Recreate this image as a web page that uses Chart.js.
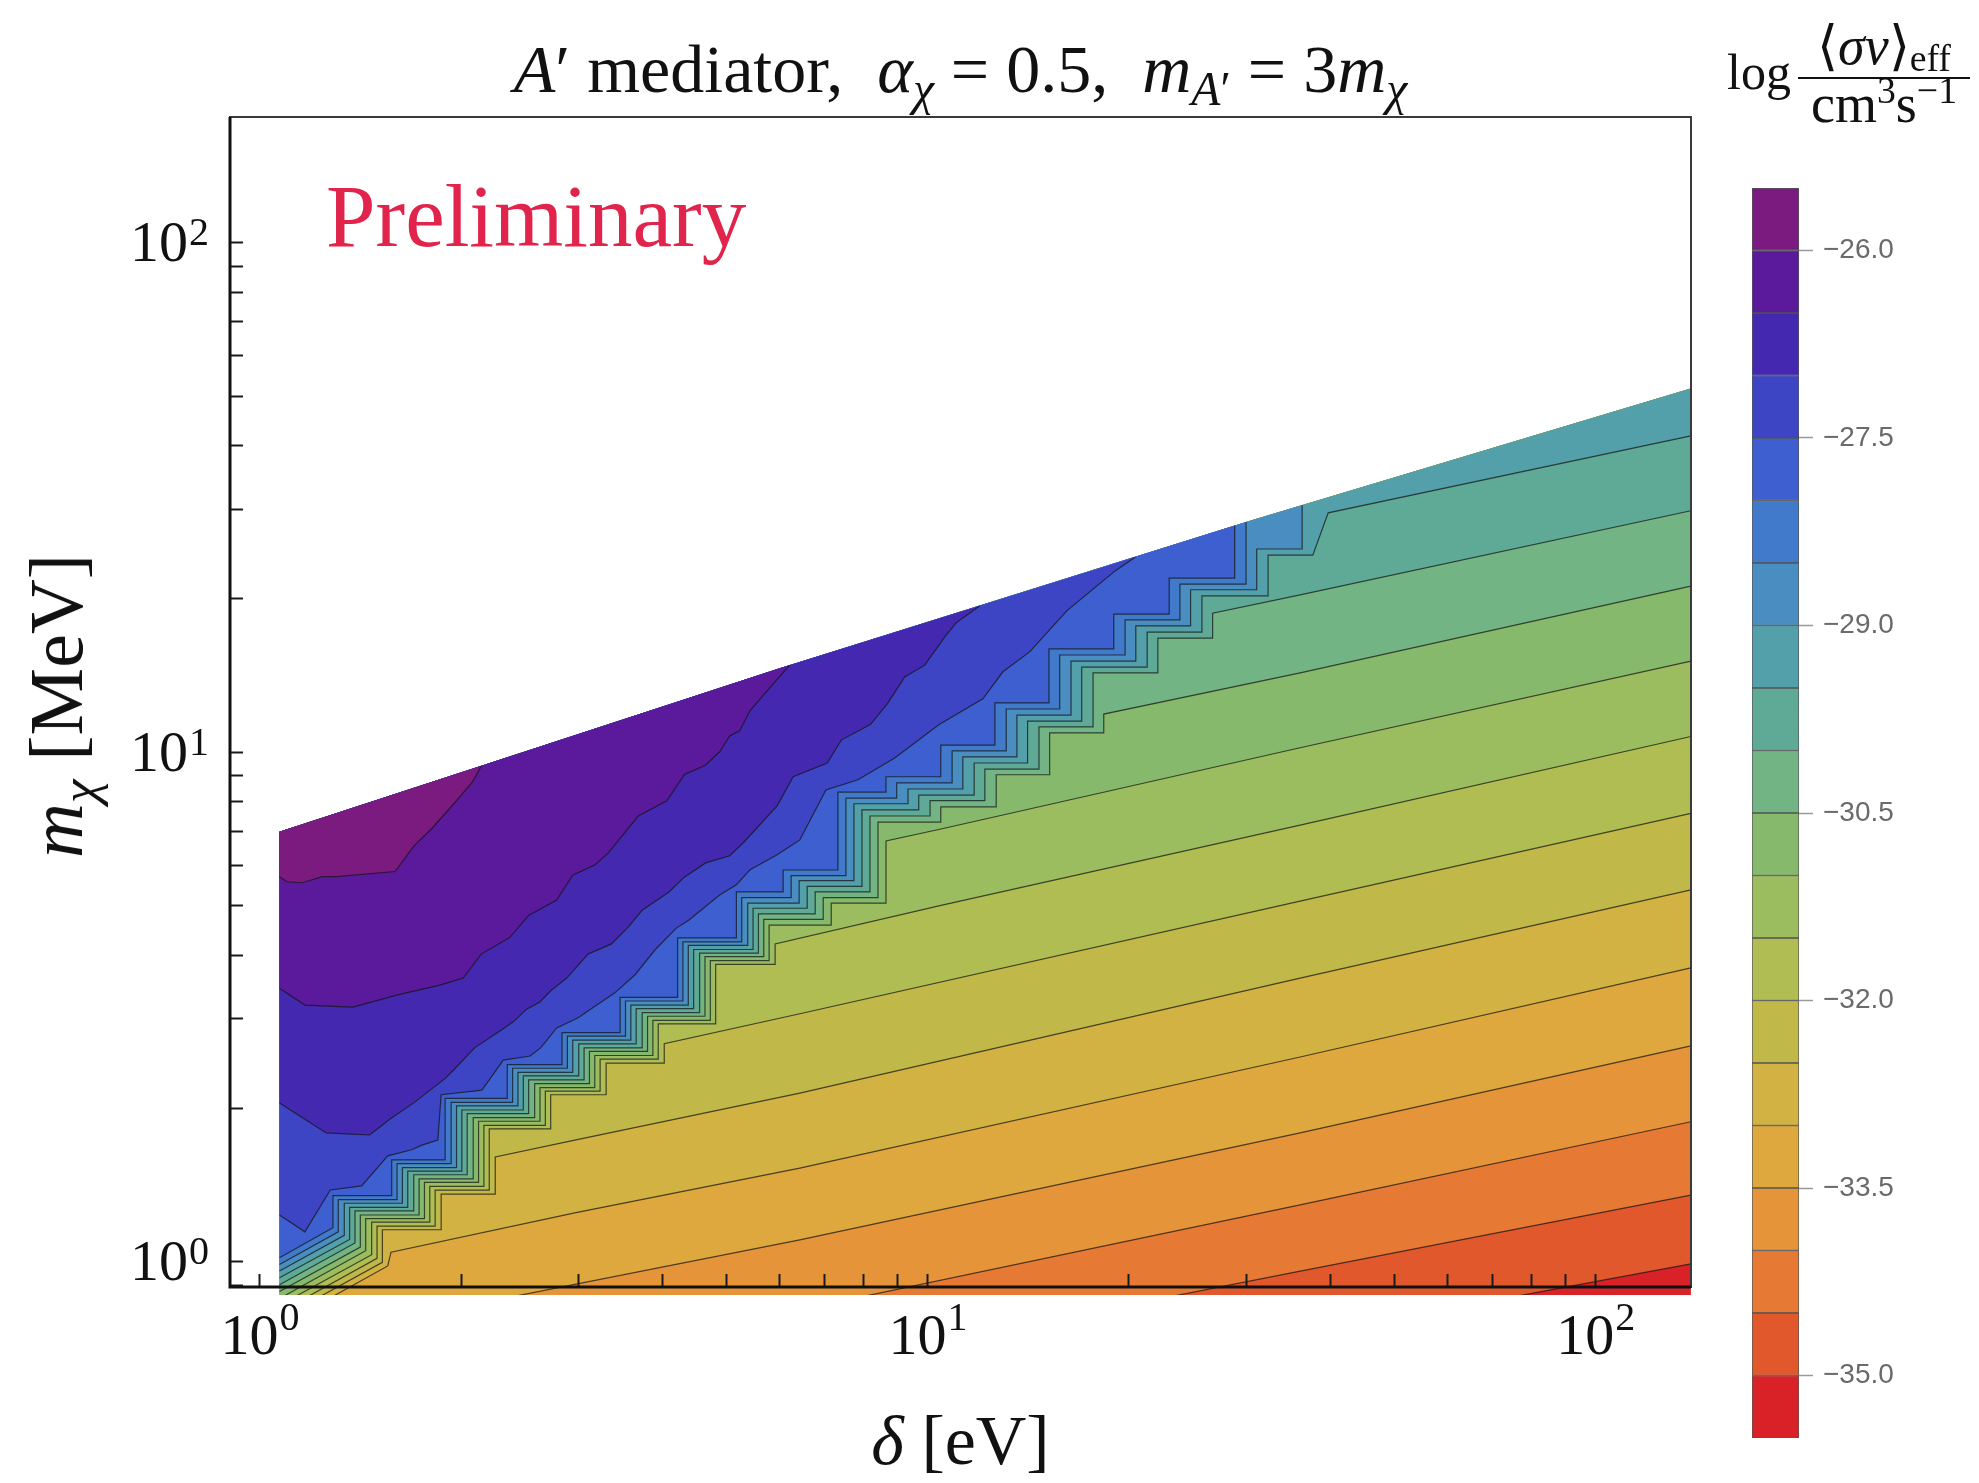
<!DOCTYPE html>
<html>
<head>
<meta charset="utf-8">
<script src="https://cdn.jsdelivr.net/npm/chart.js@4.4.1/dist/chart.umd.min.js"></script>
<style>
  body { margin: 0; background: #fff; }
  #wrap { position: relative; width: 1979px; height: 1483px; font-family: "Liberation Serif", serif; color: #111; }
  canvas { position: absolute; }
  .lbl { position: absolute; white-space: nowrap; line-height: 1; }
  .lbl sub { font-size: 0.7em; vertical-align: -0.28em; line-height: 0; }
  .lbl sup { font-size: 0.7em; vertical-align: 0.5em; line-height: 0; }
</style>
</head>
<body>
<div id="wrap">
  <canvas id="main" width="1979" height="1483" style="left:0;top:0"></canvas>
  <canvas id="bar" width="259" height="1320" style="left:1720px;top:150px"></canvas>

  <div class="lbl" style="left:0;width:1921px;text-align:center;top:35px;font-size:68px">
    <i>A</i>′ mediator,&nbsp; <i>α</i><sub><i>χ</i></sub> = 0.5,&nbsp; <i>m</i><sub><i>A</i>′</sub> = 3<i>m</i><sub><i>χ</i></sub>
  </div>
  <div class="lbl" style="left:1727px;top:47px;font-size:50px">log</div>
  <div class="lbl" style="left:1798px;top:24px;width:172px;font-size:54px;text-align:center">
    <div style="line-height:44px;padding-bottom:9px">⟨<i>σv</i>⟩<sub style="vertical-align:-0.18em">eff</sub></div>
    <div style="border-top:2.5px solid #111;line-height:50px">cm<sup>3</sup>s<sup>−1</sup></div>
  </div>
  <div class="lbl" style="left:326px;top:172px;font-size:89px;color:#e1244b">Preliminary</div>
  <div class="lbl" style="left:0;width:1921px;text-align:center;top:1406px;font-size:70px"><i>δ</i> [eV]</div>
  <div class="lbl" style="left:56px;top:706px;font-size:76px;transform:translate(-50%,-50%) rotate(-90deg)"><i>m</i><sub><i>χ</i></sub> [MeV]</div>
</div>

<script>
// --- Data (points read as [log10(δ / eV), log10(m_χ / MeV)]) ---
const levelValues = [-35.5, -35, -34.5, -34, -33.5, -33, -32.5, -32, -31.5, -31, -30.5,
  -30, -29.5, -29, -28.5, -28, -27.5, -27, -26.5, -26, -25.5];
const bandColors = ["#d92227", "#e2582d", "#e67a34", "#e5943a", "#dea83e", "#d1b242", "#c1b84a",
  "#afbd53", "#9bbd5f", "#86b96c", "#72b483", "#5faa96", "#539faa", "#4a8dc1", "#4179cb",
  "#3d5fcf", "#3d45c4", "#4528b0", "#5a1a9b", "#7b1b80"];
const colorbarTicks = [-35, -33.5, -32, -30.5, -29, -27.5, -26];

const xTickValues = [1, 2, 3, 4, 5, 6, 7, 8, 9, 10, 20, 30, 40, 50, 60, 70, 80, 90, 100];
const yTickValues = [0.9, 1, 2, 3, 4, 5, 6, 7, 8, 9, 10, 20, 30, 40, 50, 60, 70, 80, 90, 100];
const majorTickValues = [1, 10, 100];
const majorTickExponents = ["0", "1", "2"];
const axisFloor = 0.8908; // m_χ where the frame's bottom line sits (fill runs a little below it)

// region where the rate is defined: right edge, top edge, left edge, bottom
const domainRing = [[2.143, -0.076], [2.143, 1.713], [1.487, 1.455], [0.779, 1.164], [0.030, 0.843], [0.030, -0.076]];

const iso350 = [[1.850, -0.076], [1.917, -0.060], [2.143, -0.005]];
const iso345 = [[1.338, -0.076], [1.543, -0.023], [2.143, 0.130]];
const iso340 = [[0.878, -0.076], [1.558, 0.111], [2.143, 0.274]];
const iso335 = [[0.353, -0.076], [0.809, 0.042], [1.558, 0.252], [2.143, 0.423]];
const iso330 = [[0.100, -0.076], [0.192, -0.009], [0.197, 0.018], [0.472, 0.095], [0.809, 0.183], [1.558, 0.401], [2.143, 0.576]];
const iso325 = [[0.081, -0.076], [0.184, -0.002], [0.184, 0.062], [0.272, 0.062], [0.272, 0.132], [0.353, 0.132], [0.353, 0.205],
  [0.472, 0.238], [0.809, 0.330], [1.558, 0.556], [2.143, 0.729]];
const iso320 = [[0.063, -0.076], [0.176, 0.006], [0.176, 0.069], [0.263, 0.069], [0.263, 0.140], [0.344, 0.140], [0.344, 0.260],
  [0.436, 0.260], [0.436, 0.327], [0.519, 0.327], [0.519, 0.389], [0.606, 0.389], [0.606, 0.427], [0.809, 0.486],
  [1.558, 0.707], [2.143, 0.879]];
const iso315 = [[0.044, -0.076], [0.168, 0.013], [0.168, 0.077], [0.255, 0.077], [0.255, 0.147], [0.336, 0.147], [0.336, 0.267],
  [0.428, 0.267], [0.428, 0.334], [0.510, 0.334], [0.510, 0.397], [0.597, 0.397], [0.597, 0.466], [0.683, 0.466],
  [0.683, 0.583], [0.772, 0.583], [0.772, 0.623], [1.022, 0.699], [1.558, 0.856], [2.143, 1.030]];
const iso310 = [[0.030, -0.073], [0.159, 0.021], [0.159, 0.084], [0.247, 0.084], [0.247, 0.155], [0.328, 0.155], [0.328, 0.275],
  [0.420, 0.275], [0.420, 0.341], [0.502, 0.341], [0.502, 0.404], [0.589, 0.404], [0.589, 0.473], [0.675, 0.473],
  [0.675, 0.590], [0.763, 0.590], [0.763, 0.660], [0.856, 0.660], [0.856, 0.703], [0.938, 0.703], [0.938, 0.825],
  [1.022, 0.849], [1.558, 1.008], [2.143, 1.178]];
const iso305 = [[0.030, -0.059], [0.151, 0.028], [0.151, 0.091], [0.239, 0.091], [0.239, 0.162], [0.320, 0.162], [0.320, 0.282],
  [0.412, 0.282], [0.412, 0.349], [0.494, 0.349], [0.494, 0.412], [0.581, 0.412], [0.581, 0.481], [0.667, 0.481],
  [0.667, 0.598], [0.755, 0.598], [0.755, 0.671], [0.844, 0.671], [0.844, 0.714], [0.926, 0.714], [0.926, 0.862],
  [1.020, 0.862], [1.020, 0.892], [1.103, 0.892], [1.103, 0.955], [1.183, 0.955], [1.183, 1.037], [1.264, 1.037],
  [1.264, 1.074], [1.558, 1.155], [2.143, 1.325]];
const iso300 = [[0.030, -0.046], [0.143, 0.036], [0.143, 0.099], [0.231, 0.099], [0.231, 0.170], [0.311, 0.170], [0.311, 0.290],
  [0.403, 0.290], [0.403, 0.356], [0.486, 0.356], [0.486, 0.419], [0.573, 0.419], [0.573, 0.488], [0.659, 0.488],
  [0.659, 0.605], [0.747, 0.605], [0.747, 0.682], [0.832, 0.682], [0.832, 0.725], [0.914, 0.725], [0.914, 0.874],
  [1.004, 0.874], [1.004, 0.904], [1.086, 0.904], [1.086, 0.966], [1.167, 0.966], [1.167, 1.049], [1.248, 1.049],
  [1.248, 1.155], [1.345, 1.155], [1.345, 1.223], [1.427, 1.223], [1.427, 1.272], [1.558, 1.308], [2.143, 1.473]];
const iso295 = [[0.030, -0.032], [0.135, 0.043], [0.135, 0.106], [0.222, 0.106], [0.222, 0.177], [0.303, 0.177], [0.303, 0.297],
  [0.395, 0.297], [0.395, 0.364], [0.478, 0.364], [0.478, 0.427], [0.564, 0.427], [0.564, 0.496], [0.650, 0.496],
  [0.650, 0.612], [0.739, 0.612], [0.739, 0.693], [0.820, 0.693], [0.820, 0.736], [0.902, 0.736], [0.902, 0.886],
  [0.987, 0.886], [0.987, 0.915], [1.070, 0.915], [1.070, 0.978], [1.150, 0.978], [1.150, 1.060], [1.231, 1.060],
  [1.231, 1.166], [1.329, 1.166], [1.329, 1.235], [1.411, 1.235], [1.411, 1.306], [1.510, 1.306], [1.510, 1.386],
  [1.577, 1.386], [1.600, 1.469], [2.143, 1.620]];
const iso290 = [[0.030, -0.019], [0.127, 0.051], [0.127, 0.114], [0.214, 0.114], [0.214, 0.184], [0.295, 0.184], [0.295, 0.305],
  [0.387, 0.305], [0.387, 0.371], [0.469, 0.371], [0.469, 0.434], [0.556, 0.434], [0.556, 0.503], [0.642, 0.503],
  [0.642, 0.620], [0.731, 0.620], [0.731, 0.703], [0.808, 0.703], [0.808, 0.747], [0.890, 0.747], [0.890, 0.898],
  [0.971, 0.898], [0.971, 0.927], [1.053, 0.927], [1.053, 0.990], [1.134, 0.990], [1.134, 1.072], [1.215, 1.072],
  [1.215, 1.178], [1.312, 1.178], [1.312, 1.247], [1.394, 1.247], [1.394, 1.318], [1.493, 1.318], [1.493, 1.398],
  [1.561, 1.398], [1.561, 1.484]];
const iso285 = [[0.030, -0.006], [0.118, 0.058], [0.118, 0.121], [0.206, 0.121], [0.206, 0.192], [0.287, 0.192], [0.287, 0.312],
  [0.379, 0.312], [0.379, 0.379], [0.461, 0.379], [0.461, 0.442], [0.548, 0.442], [0.548, 0.511], [0.634, 0.511],
  [0.634, 0.627], [0.722, 0.627], [0.722, 0.714], [0.796, 0.714], [0.796, 0.757], [0.878, 0.757], [0.878, 0.909],
  [0.954, 0.909], [0.954, 0.939], [1.037, 0.939], [1.037, 1.002], [1.118, 1.002], [1.118, 1.084], [1.198, 1.084],
  [1.198, 1.190], [1.296, 1.190], [1.296, 1.259], [1.378, 1.259], [1.378, 1.329], [1.477, 1.329], [1.477, 1.451]];
const iso280 = [[0.030, 0.007], [0.110, 0.066], [0.110, 0.129], [0.198, 0.129], [0.198, 0.199], [0.278, 0.199], [0.278, 0.320],
  [0.371, 0.320], [0.371, 0.386], [0.453, 0.386], [0.453, 0.449], [0.540, 0.449], [0.540, 0.518], [0.626, 0.518],
  [0.626, 0.635], [0.714, 0.635], [0.714, 0.725], [0.784, 0.725], [0.784, 0.768], [0.866, 0.768], [0.866, 0.921],
  [0.938, 0.921], [0.938, 0.951], [1.020, 0.951], [1.020, 1.013], [1.101, 1.013], [1.101, 1.096], [1.182, 1.096],
  [1.182, 1.202], [1.279, 1.202], [1.279, 1.270], [1.362, 1.270], [1.362, 1.341], [1.460, 1.341], [1.460, 1.444]];
const iso275 = [[0.030, 0.091], [0.068, 0.058], [0.106, 0.140], [0.153, 0.148], [0.192, 0.207], [0.228, 0.219], [0.243, 0.228],
  [0.267, 0.238], [0.272, 0.327], [0.333, 0.336], [0.365, 0.395], [0.405, 0.403], [0.421, 0.419], [0.445, 0.458],
  [0.477, 0.478], [0.532, 0.527], [0.562, 0.562], [0.592, 0.611], [0.624, 0.654], [0.643, 0.670], [0.689, 0.719],
  [0.714, 0.739], [0.734, 0.768], [0.775, 0.798], [0.809, 0.827], [0.848, 0.925], [0.896, 0.945], [0.951, 0.988],
  [1.017, 1.053], [1.083, 1.104], [1.113, 1.157], [1.153, 1.196], [1.209, 1.277], [1.281, 1.355], [1.311, 1.382]];
const iso270 = [[0.030, 0.311], [0.100, 0.252], [0.165, 0.248], [0.195, 0.279], [0.233, 0.313], [0.279, 0.360], [0.291, 0.376],
  [0.322, 0.419], [0.360, 0.452], [0.380, 0.470], [0.400, 0.495], [0.420, 0.509], [0.436, 0.531], [0.460, 0.556],
  [0.492, 0.603], [0.527, 0.623], [0.552, 0.656], [0.573, 0.689], [0.613, 0.725], [0.636, 0.754], [0.668, 0.782],
  [0.704, 0.796], [0.724, 0.821], [0.745, 0.851], [0.775, 0.894], [0.799, 0.951], [0.850, 0.978], [0.871, 1.023],
  [0.915, 1.054], [0.941, 1.096], [0.966, 1.147], [0.996, 1.170], [1.028, 1.229], [1.043, 1.253], [1.078, 1.286]];
const iso265 = [[0.030, 0.536], [0.068, 0.503], [0.140, 0.499], [0.207, 0.523], [0.270, 0.542], [0.305, 0.556], [0.332, 0.603],
  [0.375, 0.636], [0.403, 0.679], [0.445, 0.709], [0.469, 0.758], [0.502, 0.778], [0.522, 0.801], [0.543, 0.835],
  [0.567, 0.874], [0.610, 0.904], [0.636, 0.955], [0.668, 0.974], [0.689, 1.000], [0.704, 1.031], [0.719, 1.041],
  [0.734, 1.080], [0.761, 1.121], [0.794, 1.170]];
const iso260 = [[0.030, 0.755], [0.041, 0.745], [0.064, 0.743], [0.094, 0.755], [0.115, 0.755], [0.203, 0.765], [0.231, 0.815],
  [0.259, 0.851], [0.291, 0.898], [0.319, 0.941], [0.332, 0.972]];

// one contour per level boundary, -35.0 ... -26.0
const isoLines = [iso350, iso345, iso340, iso335, iso330, iso325, iso320, iso315, iso310, iso305,
  iso300, iso295, iso290, iso285, iso280, iso275, iso270, iso265, iso260];

// --- Helpers ---
const toPoint = ([lx, ly]) => ({ x: 10 ** lx, y: 10 ** ly });

function segDist(p, a, b) {
  const dx = b[0] - a[0], dy = b[1] - a[1];
  let t = ((p[0] - a[0]) * dx + (p[1] - a[1]) * dy) / (dx * dx + dy * dy);
  t = Math.max(0, Math.min(1, t));
  return Math.hypot(p[0] - a[0] - t * dx, p[1] - a[1] - t * dy);
}
function ringSegment(p) {
  let best = 0, bestD = Infinity;
  domainRing.forEach((a, i) => {
    const d = segDist(p, a, domainRing[(i + 1) % domainRing.length]);
    if (d < bestD) { bestD = d; best = i; }
  });
  return best;
}
// area on the high side of a contour: the contour, then the domain edge back to its start
function closeAbove(line) {
  const n = domainRing.length;
  const start = ringSegment(line[0]);
  let i = ringSegment(line[line.length - 1]);
  const pts = line.slice();
  do { i = (i + 1) % n; pts.push(domainRing[i]); } while (i !== start);
  return pts;
}

// --- Datasets (painted bottom band first) ---
const layers = [{
  data: domainRing.map(toPoint), showLine: true, fill: "shape",
  backgroundColor: bandColors[0], borderWidth: 0, pointRadius: 0
}];
isoLines.forEach((line, k) => {
  layers.push({
    data: closeAbove(line).map(toPoint), showLine: true, fill: "shape",
    backgroundColor: bandColors[k + 1], borderWidth: 0, pointRadius: 0
  });
  layers.push({
    data: line.map(toPoint), showLine: true, fill: false,
    borderColor: "rgba(20,20,20,0.72)", borderWidth: 1.2, pointRadius: 0
  });
});
layers.forEach((d, i) => { d.order = layers.length - i; });

// --- Frame, inward ticks and 10^n labels ---
function drawPower(ctx, exp, x, baseline, raise, align) {
  ctx.font = "58px 'Liberation Serif'";
  const w1 = ctx.measureText("10").width;
  ctx.font = "40px 'Liberation Serif'";
  const w2 = ctx.measureText(exp).width;
  const left = align === "center" ? x - (w1 + w2) / 2 : x - (w1 + w2);
  ctx.font = "58px 'Liberation Serif'";
  ctx.fillText("10", left, baseline);
  ctx.font = "40px 'Liberation Serif'";
  ctx.fillText(exp, left + w1 + 1, baseline - raise);
}

const framePlugin = {
  id: "frame",
  afterDatasetsDraw(chart) {
    const { ctx, chartArea: a, scales: { x, y } } = chart;
    const fb = Math.round(y.getPixelForValue(axisFloor));
    ctx.save();
    ctx.strokeStyle = "#1a1a1a";
    ctx.lineWidth = 2;
    x.ticks.forEach(t => {
      const px = Math.round(x.getPixelForValue(t.value)) + 0.5;
      ctx.beginPath(); ctx.moveTo(px, fb); ctx.lineTo(px, fb - 13); ctx.stroke();
    });
    y.ticks.forEach(t => {
      const py = Math.round(y.getPixelForValue(t.value)) + 0.5;
      ctx.beginPath(); ctx.moveTo(a.left, py); ctx.lineTo(a.left + 13, py); ctx.stroke();
    });
    ctx.strokeStyle = "#3a3a3a";
    ctx.lineWidth = 2;
    ctx.strokeRect(a.left, a.top, a.right - a.left, fb - a.top);
    ctx.strokeStyle = "#111";
    ctx.lineWidth = 3;
    ctx.beginPath();
    ctx.moveTo(a.left, a.top); ctx.lineTo(a.left, fb); ctx.lineTo(a.right, fb);
    ctx.stroke();

    ctx.fillStyle = "#111";
    ctx.textBaseline = "alphabetic";
    ctx.textAlign = "left";
    majorTickValues.forEach((v, i) => {
      drawPower(ctx, majorTickExponents[i], x.getPixelForValue(v), fb + 67, 24, "center");
      drawPower(ctx, majorTickExponents[i], a.left - 22, y.getPixelForValue(v) + 19, 16, "right");
    });
    ctx.restore();
  }
};

new Chart(document.getElementById("main"), {
  type: "scatter",
  data: { datasets: layers },
  options: {
    responsive: false,
    animation: false,
    events: [],
    layout: { padding: { top: 117, right: 288, left: 0, bottom: 0 } },
    elements: { line: { tension: 0 }, point: { radius: 0 } },
    plugins: { legend: { display: false }, tooltip: { enabled: false } },
    scales: {
      x: {
        type: "logarithmic",
        min: 0.9034,
        max: 139.05,
        afterBuildTicks: s => { s.ticks = xTickValues.map(v => ({ value: v })); },
        afterFit: s => { s.height = 188; },
        ticks: { display: false },
        grid: { display: false, drawTicks: false },
        border: { display: false }
      },
      y: {
        type: "logarithmic",
        min: 0.859,
        max: 176.1,
        afterBuildTicks: s => { s.ticks = yTickValues.map(v => ({ value: v })); },
        afterFit: s => { s.width = 230; },
        ticks: { display: false },
        grid: { display: false, drawTicks: false },
        border: { display: false }
      }
    }
  },
  plugins: [framePlugin]
});

// --- Colour bar ---
new Chart(document.getElementById("bar"), {
  type: "bar",
  data: {
    labels: [""],
    datasets: bandColors.map((c, i) => ({
      data: [[levelValues[i], levelValues[i + 1]]],
      backgroundColor: c,
      borderColor: "rgba(30,30,30,0.75)",
      borderWidth: 1,
      borderSkipped: false,
      barPercentage: 1,
      categoryPercentage: 1,
      grouped: false
    }))
  },
  options: {
    responsive: false,
    animation: false,
    events: [],
    layout: { padding: { left: 32, top: 38, bottom: 32, right: 0 } },
    plugins: { legend: { display: false }, tooltip: { enabled: false } },
    scales: {
      x: { display: false },
      y: {
        position: "right",
        min: -35.5,
        max: -25.5,
        afterBuildTicks: s => { s.ticks = colorbarTicks.map(v => ({ value: v })); },
        afterFit: s => { s.width = 180; },
        ticks: {
          callback: v => v.toFixed(1).replace("-", "−"),
          color: "#6a6a6a",
          font: { family: "Liberation Sans", size: 28 },
          padding: 10
        },
        grid: { drawOnChartArea: false, tickLength: 14, tickColor: "#999", tickWidth: 1.5 },
        border: { display: false }
      }
    }
  }
});
</script>
</body>
</html>
